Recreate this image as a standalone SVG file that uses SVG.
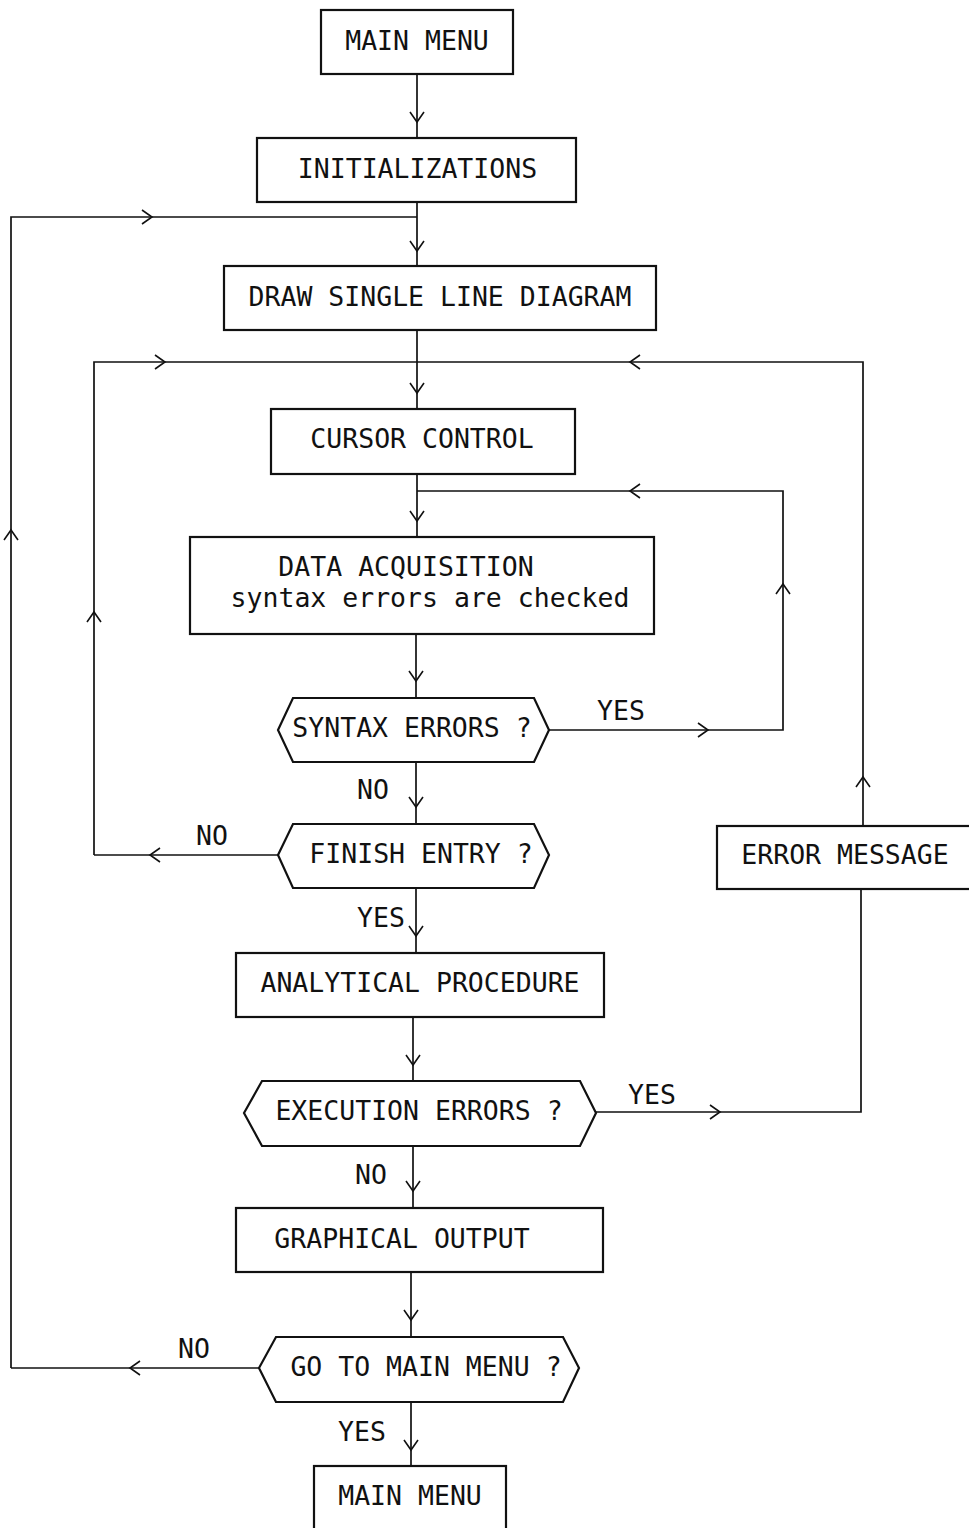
<svg xmlns="http://www.w3.org/2000/svg" width="969" height="1528" viewBox="0 0 969 1528">
<style>
.box{fill:#fff;stroke:#111;stroke-width:2.2}
.ln{fill:none;stroke:#111;stroke-width:1.7}
.ch{fill:none;stroke:#111;stroke-width:1.6}
text{font-family:"DejaVu Sans Mono","Liberation Mono",monospace;font-size:26.5px;fill:#111;text-anchor:middle}
.lbl{text-anchor:start}
</style>
<defs>
<path id="chev" class="ch" d="M-7,-10 L0,0 L7,-10"/>
</defs>
<rect width="969" height="1528" fill="#fff"/>
<g id="connectors">
<path class="ln" d="M417,74 V138"/>
<path class="ln" d="M417,202 V266"/>
<path class="ln" d="M11,1368 V217 H417"/>
<path class="ln" d="M417,330 V409"/>
<path class="ln" d="M94,855 V362 H863 V826"/>
<path class="ln" d="M417,474 V537"/>
<path class="ln" d="M549,730 H783 V491 H417"/>
<path class="ln" d="M416,634 V698"/>
<path class="ln" d="M416,762 V824"/>
<path class="ln" d="M278,855 H94"/>
<path class="ln" d="M416,888 V953"/>
<path class="ln" d="M413,1017 V1081"/>
<path class="ln" d="M596,1112 H861 V889"/>
<path class="ln" d="M413,1146 V1208"/>
<path class="ln" d="M411,1272 V1337"/>
<path class="ln" d="M259,1368 H11"/>
<path class="ln" d="M411,1402 V1466"/>
<!-- chevrons -->
<use href="#chev" transform="translate(417,122)"/>
<use href="#chev" transform="translate(417,251)"/>
<use href="#chev" transform="translate(152,217) rotate(-90)"/>
<use href="#chev" transform="translate(11,530) rotate(180)"/>
<use href="#chev" transform="translate(417,393)"/>
<use href="#chev" transform="translate(165,362) rotate(-90)"/>
<use href="#chev" transform="translate(630,362) rotate(90)"/>
<use href="#chev" transform="translate(94,612) rotate(180)"/>
<use href="#chev" transform="translate(417,521)"/>
<use href="#chev" transform="translate(630,491) rotate(90)"/>
<use href="#chev" transform="translate(783,584) rotate(180)"/>
<use href="#chev" transform="translate(416,681)"/>
<use href="#chev" transform="translate(708,730) rotate(-90)"/>
<use href="#chev" transform="translate(416,807)"/>
<use href="#chev" transform="translate(150,855) rotate(90)"/>
<use href="#chev" transform="translate(416,936)"/>
<use href="#chev" transform="translate(863,777) rotate(180)"/>
<use href="#chev" transform="translate(413,1065)"/>
<use href="#chev" transform="translate(720,1112) rotate(-90)"/>
<use href="#chev" transform="translate(413,1191)"/>
<use href="#chev" transform="translate(411,1320)"/>
<use href="#chev" transform="translate(130,1368) rotate(90)"/>
<use href="#chev" transform="translate(411,1450)"/>
<!-- labels -->
<text class="lbl" x="597" y="720">YES</text>
<text class="lbl" x="357" y="799">NO</text>
<text class="lbl" x="196" y="845">NO</text>
<text class="lbl" x="357" y="927">YES</text>
<text class="lbl" x="628" y="1104">YES</text>
<text class="lbl" x="355" y="1184">NO</text>
<text class="lbl" x="178" y="1358">NO</text>
<text class="lbl" x="338" y="1441">YES</text>
</g>
<g id="main-menu-top">
<rect class="box" x="321" y="10" width="192" height="64"/>
<text x="417" y="50">MAIN MENU</text>
</g>
<g id="initializations">
<rect class="box" x="257" y="138" width="319" height="64"/>
<text x="417.5" y="178">INITIALIZATIONS</text>
</g>
<g id="draw-sld">
<rect class="box" x="224" y="266" width="432" height="64"/>
<text x="440" y="306">DRAW SINGLE LINE DIAGRAM</text>
</g>
<g id="cursor-control">
<rect class="box" x="271" y="409" width="304" height="65"/>
<text x="422" y="448">CURSOR CONTROL</text>
</g>
<g id="data-acquisition">
<rect class="box" x="190" y="537" width="464" height="97"/>
<text x="406" y="576">DATA ACQUISITION</text>
<text x="430" y="607">syntax errors are checked</text>
</g>
<g id="syntax-errors">
<polygon class="box" points="278,730 293,698 534,698 549,730 534,762 293,762"/>
<text x="412" y="737">SYNTAX ERRORS ?</text>
</g>
<g id="finish-entry">
<polygon class="box" points="278,855 293,824 534,824 549,855 534,888 293,888"/>
<text x="421" y="863">FINISH ENTRY ?</text>
</g>
<g id="error-message">
<rect class="box" x="717" y="826" width="260" height="63"/>
<text x="845" y="864">ERROR MESSAGE</text>
</g>
<g id="analytical-procedure">
<rect class="box" x="236" y="953" width="368" height="64"/>
<text x="420" y="992">ANALYTICAL PROCEDURE</text>
</g>
<g id="execution-errors">
<polygon class="box" points="244,1113 262,1081 580,1081 596,1113 580,1146 262,1146"/>
<text x="419" y="1120">EXECUTION ERRORS ?</text>
</g>
<g id="graphical-output">
<rect class="box" x="236" y="1208" width="367" height="64"/>
<text x="402" y="1248">GRAPHICAL OUTPUT</text>
</g>
<g id="go-to-main-menu">
<polygon class="box" points="259,1368 276,1337 563,1337 579,1368 563,1402 276,1402"/>
<text x="426" y="1376">GO TO MAIN MENU ?</text>
</g>
<g id="main-menu-bottom">
<rect class="box" x="314" y="1466" width="192" height="70"/>
<text x="410" y="1505">MAIN MENU</text>
</g>
</svg>
